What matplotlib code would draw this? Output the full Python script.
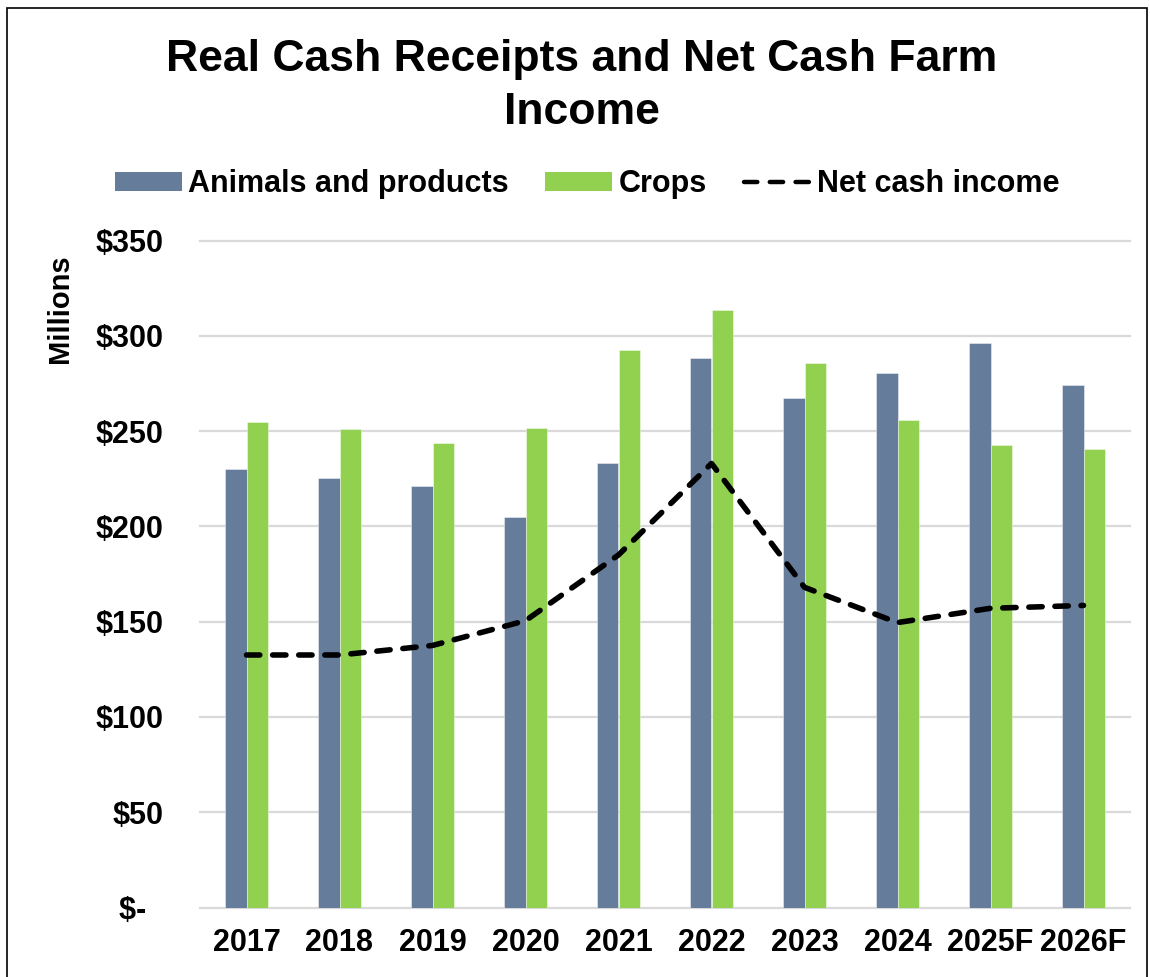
import numpy as np
import matplotlib
matplotlib.use("Agg")
import matplotlib.pyplot as plt
from matplotlib.patches import Patch, Rectangle
from matplotlib.lines import Line2D

# ---- data ----
years = ["2017", "2018", "2019", "2020", "2021", "2022", "2023", "2024", "2025F", "2026F"]
animals = [230, 225.5, 221, 205, 233.5, 288.5, 267.5, 280.5, 296, 274]
crops = [255, 251, 244, 251.5, 292.5, 313.5, 285.5, 256, 242.5, 240.5]
net_income = [132.5, 132.5, 137.5, 150.5, 185, 233, 168, 149.5, 157, 158.5]
ytick_vals = [0, 50, 100, 150, 200, 250, 300, 350]
ytick_labels = ["$-  ", "$50", "$100", "$150", "$200", "$250", "$300", "$350"]

BLUE = "#657C9B"
GREEN = "#92D050"
FONT = "Liberation Sans"

W, H = 1150, 977
fig = plt.figure(figsize=(W / 100, H / 100), dpi=100)

# outer frame
fig.patches.append(Rectangle((7 / W, -0.05), 1140 / W, 1.05 - 8 / H,
                             transform=fig.transFigure, fill=False,
                             edgecolor="black", lw=1.2, zorder=0))

ax = fig.add_axes([200 / W, 1 - 907.5 / H, 930 / W, (907.5 - 240.5) / H])
x = np.arange(len(years))
bw = 0.23
ax.bar(x - bw / 2, animals, width=bw, color=BLUE, edgecolor="#ffffff80",
       linewidth=0.6, zorder=2)
ax.bar(x + bw / 2, crops, width=bw, color=GREEN, edgecolor="#ffffff80",
       linewidth=0.6, zorder=2)
ax.plot(x, net_income, color="black", lw=4, linestyle=(0, (2.4, 2.3)),
        dash_capstyle="round", solid_joinstyle="round", zorder=3)

ax.set_xlim(-0.5, len(years) - 0.5)
ax.set_ylim(0, 350)
ax.set_yticks(ytick_vals)
ax.set_yticklabels(ytick_labels)
ax.set_xticks(x)
ax.set_xticklabels(years)
for s in ax.spines.values():
    s.set_visible(False)
ax.tick_params(axis="both", length=0)
ax.tick_params(axis="y", pad=26.5)
ax.tick_params(axis="x", pad=15)
for lab in ax.get_xticklabels() + ax.get_yticklabels():
    lab.set_fontfamily(FONT)
    lab.set_fontweight("bold")
    lab.set_fontsize(22)
ax.yaxis.grid(True, color="#D9D9D9", lw=1.6, zorder=0)
ax.set_axisbelow(True)
for gl in ax.get_ygridlines():
    gl.set_clip_on(False)

fig.text(60 / W, 1 - 309 / H, "Millions", rotation=90, ha="center", va="center",
         fontfamily=FONT, fontweight="bold", fontsize=21)

# title
fig.text(582 / W, 1 - 60 / H, "Real Cash Receipts and Net Cash Farm",
         ha="center", va="center", fontfamily=FONT, fontweight="bold", fontsize=32)
fig.text(582 / W, 1 - 113 / H, "Income",
         ha="center", va="center", fontfamily=FONT, fontweight="bold", fontsize=32)

# legend
handles = [Patch(facecolor=BLUE, edgecolor="none"),
           Patch(facecolor=GREEN, edgecolor="none"),
           Line2D([], [], color="black", lw=3.2, linestyle=(0, (3, 2.8)),
                  dash_capstyle="round")]
labels = ["Animals and products", "Crops", "Net cash income"]
fig.legend(handles, labels, loc="center", bbox_to_anchor=(587 / W, 1 - 184 / H),
           ncol=3, frameon=False,
           prop={"family": FONT, "weight": "bold", "size": 22},
           handlelength=2.2, handleheight=0.6, handletextpad=0.2,
           columnspacing=1.2, borderpad=0)

fig.savefig("out.png", dpi=100)
